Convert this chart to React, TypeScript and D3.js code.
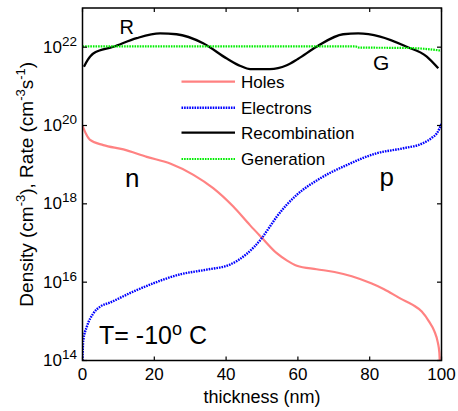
import React from "react";
import * as d3 from "d3";

const W = 458;
const H = 411;

// thickness (nm) and log10 of values
const holesX = [0, 1, 2.1, 5.8, 11.4, 17.9, 24.4, 30.9, 36.4, 42, 46.7, 49.9, 54.1, 57, 59.7, 65.2, 70.2, 75, 80.4, 84, 88.6, 92, 94.5, 96.5, 98, 99, 99.4, 99.5];
const holesExp = [20.0, 19.78, 19.63, 19.5, 19.39, 19.2, 19.03, 18.74, 18.4, 17.93, 17.45, 17.14, 16.74, 16.55, 16.42, 16.33, 16.26, 16.15, 15.97, 15.82, 15.58, 15.42, 15.25, 15.0, 14.75, 14.45, 14.2, 14.0];

const electronsX = [0, 0.2, 1.2, 3, 5, 7.7, 13.2, 19.7, 27.2, 34.6, 41.1, 45.7, 49.9, 52.2, 54.1, 59.7, 66.2, 73.6, 81.9, 89.4, 94.9, 97.5, 98.7, 100];
const electronsExp = [14.0, 14.5, 14.86, 15.2, 15.38, 15.48, 15.72, 15.97, 16.2, 16.32, 16.45, 16.72, 17.12, 17.42, 17.67, 18.23, 18.65, 18.99, 19.29, 19.42, 19.55, 19.7, 19.8, 20.04];

const recombX = [0.4, 1.5, 3, 8.6, 15.1, 21.6, 26.2, 33.6, 40.2, 44, 46.7, 52.2, 56.9, 60, 65.2, 72.6, 76.8, 82.9, 90.3, 95.9, 99.1];
const recombExp = [21.5, 21.68, 21.84, 22.01, 22.23, 22.35, 22.33, 22.1, 21.71, 21.52, 21.44, 21.44, 21.54, 21.7, 22.01, 22.33, 22.35, 22.27, 22.01, 21.76, 21.46];

const genX = [0, 76, 77, 90, 95, 100];
const genExp = [22.02, 22.02, 21.99, 21.98, 21.96, 21.91];

const xTicks = [0, 20, 40, 60, 80, 100];
const yTickExps = [14, 16, 18, 20, 22];

const legendItems = ["Holes", "Electrons", "Recombination", "Generation"];

const FONT = "'Liberation Sans', Arial, sans-serif";

export default function App() {
  const left = 82.5, right = 441.5, top = 8, bottom = 360.5;
  const x = d3.scaleLinear().domain([0, 100]).range([left, right]);
  const y = d3.scaleLog().domain([1e14, 1e23]).range([bottom, top]);

  const mk = (xs: number[], es: number[]) => xs.map((v, i) => [v, Math.pow(10, es[i])] as [number, number]);
  const line = d3
    .line<[number, number]>()
    .x((d) => x(d[0]))
    .y((d) => y(d[1]))
    .curve(d3.curveMonotoneX);

  const series = [
    { name: "Holes", d: mk(holesX, holesExp), color: "#ff4d4d", w: 2.2, dash: "none", op: 0.7 },
    { name: "Electrons", d: mk(electronsX, electronsExp), color: "#0000ff", w: 2.4, dash: "1.6,1", op: 1 },
    { name: "Recombination", d: mk(recombX, recombExp), color: "#000000", w: 2.3, dash: "none", op: 1 },
    { name: "Generation", d: mk(genX, genExp), color: "#00ee00", w: 2.2, dash: "1.6,1", op: 1 },
  ];

  const legendY = [81.7, 107.7, 132.7, 159];

  return (
    <svg
      width={W}
      height={H}
      style={{ position: "absolute", left: 0, top: 0, background: "#fff" }}
      fontFamily={FONT}
    >
      <rect x={0} y={0} width={W} height={H} fill="#fff" />
      <defs>
        <clipPath id="plotclip">
          <rect x={left} y={top} width={right - left} height={bottom - top} />
        </clipPath>
      </defs>

      {/* series */}
      <g clipPath="url(#plotclip)">
        {series.map((s) => (
          <path
            key={s.name}
            d={line(s.d) || ""}
            fill="none"
            stroke={s.color}
            strokeWidth={s.w}
            strokeDasharray={s.dash}
            opacity={s.op}
            strokeLinejoin="round"
          />
        ))}
      </g>

      {/* legend */}
      {legendItems.map((name, i) => {
        const s = series[i];
        return (
          <g key={name}>
            <line
              x1={181.5}
              x2={235}
              y1={legendY[i]}
              y2={legendY[i]}
              stroke={s.color}
              strokeWidth={s.w}
              strokeDasharray={s.dash}
              opacity={s.op}
            />
            <text x={241} y={legendY[i] + 6} fontSize={17} fill="#000">
              {name}
            </text>
          </g>
        );
      })}

      {/* box */}
      <rect x={left} y={top} width={right - left} height={bottom - top} fill="none" stroke="#000" strokeWidth={1.5} />

      {/* x ticks */}
      {xTicks.map((t) => (
        <g key={"x" + t}>
          <line x1={x(t)} x2={x(t)} y1={bottom} y2={bottom - 4} stroke="#000" strokeWidth={1.2} />
          <line x1={x(t)} x2={x(t)} y1={top} y2={top + 4} stroke="#000" strokeWidth={1.2} />
          <text x={x(t)} y={380} fontSize={17} textAnchor="middle" fill="#000">
            {t}
          </text>
        </g>
      ))}

      {/* y ticks */}
      {yTickExps.map((e) => {
        const yy = y(Math.pow(10, e));
        return (
          <g key={"y" + e}>
            <line x1={left} x2={left + 4.5} y1={yy} y2={yy} stroke="#000" strokeWidth={1.2} />
            <line x1={right} x2={right - 4.5} y1={yy} y2={yy} stroke="#000" strokeWidth={1.2} />
            <text x={62} y={yy + 5.5} fontSize={17} textAnchor="end" fill="#000">
              10
            </text>
            <text x={62} y={yy - 1.5} fontSize={13.5} textAnchor="start" fill="#000">
              {e}
            </text>
          </g>
        );
      })}

      {/* axis labels */}
      <text x={(left + right) / 2} y={403} fontSize={18} textAnchor="middle" fill="#000">
        thickness (nm)
      </text>
      <text
        transform={`translate(33, ${(top + bottom) / 2}) rotate(-90)`}
        fontSize={19}
        textAnchor="middle"
        fill="#000"
      >
        Density (cm
        <tspan fontSize={13} dy={-8}>-3</tspan>
        <tspan dy={8}>), Rate (cm</tspan>
        <tspan fontSize={13} dy={-8}>-3</tspan>
        <tspan dy={8}>s</tspan>
        <tspan fontSize={13} dy={-8}>-1</tspan>
        <tspan dy={8}>)</tspan>
      </text>

      {/* annotations */}
      <text x={119.5} y={33.5} fontSize={20} fill="#000">R</text>
      <text x={373} y={70} fontSize={21} fill="#000">G</text>
      <text x={125} y={186.5} fontSize={26} fill="#000">n</text>
      <text x={379.5} y={186} fontSize={26} fill="#000">p</text>
      <text x={99} y={343.5} fontSize={25} fill="#000">
        T= -10
        <tspan fontSize={18} dy={-9}>o</tspan>
        <tspan dy={9}> C</tspan>
      </text>
    </svg>
  );
}
